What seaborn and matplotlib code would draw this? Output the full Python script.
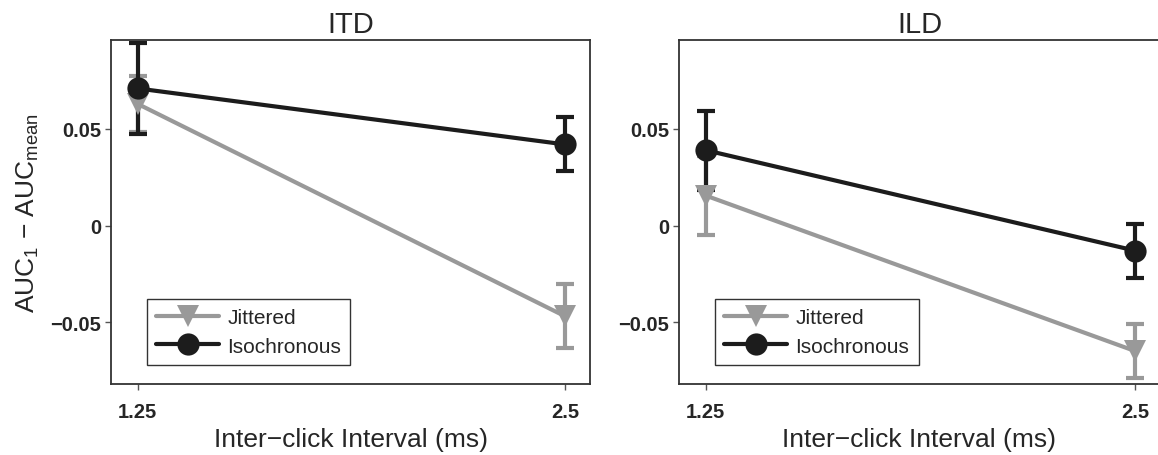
import numpy as np
import pandas as pd
import seaborn as sns
import matplotlib
matplotlib.use('Agg')
import matplotlib.pyplot as plt
from matplotlib.lines import Line2D

# Values.
intervals = [1.25, 2.5]
conditions = ['Jittered', 'Isochronous']
panels = ['ITD', 'ILD']

itd_jittered = [0.063, -0.047]
itd_jittered_err = [0.0145, 0.0165]
itd_iso = [0.071, 0.042]
itd_iso_err = [0.0235, 0.014]

ild_jittered = [0.0155, -0.065]
ild_jittered_err = [0.0205, 0.014]
ild_iso = [0.039, -0.013]
ild_iso_err = [0.0205, 0.014]

yticks = [-0.05, 0, 0.05]
yticklabels = ['\u22120.05', '0', '0.05']
xticklabels = ['1.25', '2.5']

colors = {'Jittered': '#999999', 'Isochronous': '#1c1c1c'}
markers = {'Jittered': 'v', 'Isochronous': 'o'}

# Build a long table.
rows = []
for panel, vals in [('ITD', [(itd_jittered, itd_jittered_err), (itd_iso, itd_iso_err)]),
                    ('ILD', [(ild_jittered, ild_jittered_err), (ild_iso, ild_iso_err)])]:
    for cond, (m, e) in zip(conditions, vals):
        for x, mi, ei in zip(intervals, m, e):
            rows.append({'panel': panel, 'condition': cond, 'interval': x,
                         'diff': mi, 'err': ei})
df = pd.DataFrame(rows)

sns.set_style('ticks')
plt.rcParams['font.family'] = ['Liberation Sans', 'DejaVu Sans']
plt.rcParams['mathtext.default'] = 'regular'
plt.rcParams['axes.edgecolor'] = '#333333'
plt.rcParams['axes.linewidth'] = 1.3

W, H = 1158, 456
fig = plt.figure(figsize=(W / 100, H / 100), dpi=100)
boxes = [(111, 41, 590, 385), (679, 41, 1160, 385)]

for panel, (x0, y0, x1, y1) in zip(panels, boxes):
    ax = fig.add_axes([x0 / W, 1 - y1 / H, (x1 - x0) / W, (y1 - y0) / H])
    sub = df[df['panel'] == panel]
    for cond in conditions:
        d = sub[sub['condition'] == cond]
        ax.errorbar(d['interval'], d['diff'], yerr=d['err'], fmt='none',
                    ecolor=colors[cond], elinewidth=3, capsize=6.5,
                    capthick=3, zorder=2)
    sns.lineplot(data=sub, x='interval', y='diff', hue='condition',
                 style='condition', hue_order=conditions,
                 style_order=conditions, palette=colors, markers=markers,
                 dashes=False, markersize=16, markeredgewidth=0,
                 linewidth=3, legend=False, ax=ax, zorder=3)
    ax.set_xlim(1.172, 2.573)
    ax.set_ylim(-0.0821, 0.0961)
    ax.set_xticks(intervals)
    ax.set_xticklabels(xticklabels, fontweight='bold', fontsize=14.5)
    ax.set_yticks(yticks)
    ax.set_yticklabels(yticklabels, fontweight='bold', fontsize=14.5)
    ax.tick_params(length=4, width=1, color='#555555')
    ax.tick_params(axis='y', pad=3)
    ax.tick_params(axis='x', pad=9)
    ax.set_title(panel, fontsize=21, pad=6)
    ax.set_xlabel('Inter\u2212click Interval (ms)', fontsize=19, labelpad=4)
    if panel == 'ITD':
        ax.set_ylabel('AUC$_1$ \u2212 AUC$_{mean}$', fontsize=19, labelpad=7)
    else:
        ax.set_ylabel('')
    for s in ax.spines.values():
        s.set_visible(True)

    handles = [Line2D([], [], color=colors[c], marker=markers[c],
                      markersize=16, markeredgewidth=0, linewidth=3)
               for c in conditions]
    leg = ax.legend(handles, conditions, loc='lower left',
                    bbox_to_anchor=(0.075, 0.055), fontsize=15,
                    frameon=True, fancybox=False, handlelength=3.0,
                    borderpad=0.45, labelspacing=0.45, handletextpad=0.4,
                    borderaxespad=0)
    leg.get_frame().set_edgecolor('black')
    leg.get_frame().set_linewidth(1.0)

fig.savefig('out.png', dpi=100)
